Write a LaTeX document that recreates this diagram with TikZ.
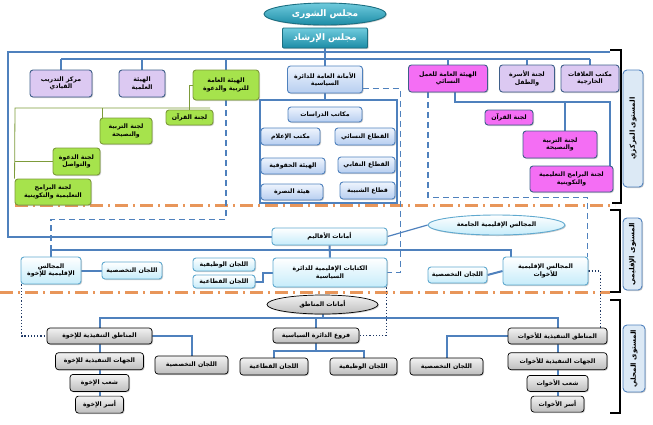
\documentclass[tikz,border=0pt]{standalone}
\usepackage{fontspec}
\usepackage{tikz}
\usetikzlibrary{positioning,shapes,shapes.geometric,shadows,backgrounds,calc}
\newfontfamily\arabicfont[Script=Arabic]{DejaVu Sans}
\TeXXeTstate=1
\newcommand{\artxt}[1]{\beginR #1\endR}

\definecolor{lineblue}{HTML}{4F81BD}
\definecolor{boxedge}{HTML}{3F5F8A}
\definecolor{lav}{HTML}{DCC9F2}
\definecolor{lgreen}{HTML}{A6E34C}
\definecolor{gedge}{HTML}{7D9B3A}
\definecolor{pink}{HTML}{F46EF4}
\definecolor{bluetop}{HTML}{EEF4FD}
\definecolor{bluebot}{HTML}{B7CEF0}
\definecolor{cyanfill}{HTML}{C6ECFA}
\definecolor{cyanedge}{HTML}{5FA9CF}
\definecolor{graytop}{HTML}{F2F2F2}
\definecolor{graybot}{HTML}{BDBDBD}
\definecolor{tealtop}{HTML}{6FCBDD}
\definecolor{tealbot}{HTML}{1C8CA6}
\definecolor{tealedge}{HTML}{1B6F82}
\definecolor{sepcol}{HTML}{E8965A}
\definecolor{navy}{HTML}{1F3864}
\definecolor{lvlfill}{HTML}{DCE9F5}

\tikzset{
  sz/.style 2 args={minimum width=#1pt, minimum height=#2pt},
  box/.style={rectangle, rounded corners=3pt, draw=boxedge, line width=0.9pt,
    align=center, inner sep=1pt, text=black,
    font=\arabicfont\bfseries\fontsize{6.2}{7.6}\selectfont,
    drop shadow={shadow xshift=1pt, shadow yshift=-1pt, opacity=0.4}},
  lavbox/.style={box, fill=lav},
  greenbox/.style={box, fill=lgreen, draw=gedge},
  pinkbox/.style={box, fill=pink},
  bluebox/.style={box, top color=bluetop, bottom color=bluebot, draw=lineblue},
  cyanbox/.style={box, top color=white, bottom color=cyanfill, draw=cyanedge},
  graybox/.style={box, top color=graytop, bottom color=graybot, draw=black, line width=0.7pt},
  tealbox/.style={box, top color=tealtop, bottom color=tealbot, draw=tealedge, text=white,
    font=\arabicfont\bfseries\fontsize{9}{10}\selectfont},
  lvlbox/.style={box, rounded corners=4pt, fill=lvlfill, draw=lineblue, rotate=90,
    font=\arabicfont\bfseries\fontsize{7}{8}\selectfont},
  conn/.style={draw=lineblue, line width=2pt},
  thinconn/.style={draw=lineblue, line width=1.2pt},
  gconn/.style={draw=gedge, line width=0.8pt},
  dconn/.style={draw=lineblue, line width=1.8pt, dash pattern=on 6pt off 4pt},
  dotconn/.style={draw=navy, line width=1.2pt, dotted},
  sepline/.style={draw=sepcol, line width=3pt, dash pattern=on 13pt off 5pt on 2pt off 5pt},
  brk/.style={draw=black, line width=1.5pt}
}

\begin{document}
\begin{tikzpicture}[x=1pt, y=-1pt]
\useasboundingbox (0,0) rectangle (653,424);

% top
\node[tealbox, ellipse, sz={122}{22}] (shura) at (325,14) {\artxt{مجلس الشورى}};
\node[tealbox, rounded corners=1pt, sz={85}{20}] (irshad) at (325,38) {\artxt{مجلس الإرشاد}};

\node[lavbox, sz={62}{27}] (tadrib) at (61,83.5) {\artxt{مركز التدريب}\\\artxt{القيادي}};
\node[lavbox, sz={46}{27}] (ilmia) at (142,83.5) {\artxt{الهيئة}\\\artxt{العلمية}};
\node[greenbox, sz={66}{30}] (tarbia) at (226,85) {\artxt{الهيئة العامة}\\\artxt{للتربية والدعوة}};
\node[bluebox, sz={75}{27}] (amana) at (325,79.5) {\artxt{الأمانة العامة للدائرة}\\\artxt{السياسية}};
\node[pinkbox, sz={79}{27}] (nisai) at (448,78.5) {\artxt{الهيئة العامة للعمل}\\\artxt{النسائي}};
\node[lavbox, sz={55}{27}] (usra) at (527,78.5) {\artxt{لجنة الأسرة}\\\artxt{والطفل}};
\node[lavbox, sz={58}{27}] (alaqat) at (590,78.5) {\artxt{مكتب العلاقات}\\\artxt{الخارجية}};

% green committees
\node[greenbox, sz={47}{15}] (quranG) at (189.5,117.5) {\artxt{لجنة القرآن}};
\node[greenbox, sz={52}{26}] (nasihaG) at (126,131) {\artxt{لجنة التربية}\\\artxt{والنصيحة}};
\node[greenbox, sz={47}{27}] (dawaG) at (76.5,161.5) {\artxt{لجنة الدعوة}\\\artxt{والتواصل}};
\node[greenbox, sz={76}{26}] (baramijG) at (53,192) {\artxt{لجنة البرامج}\\\artxt{التعليمية والتكوينية}};

% political sections
\node[bluebox, sz={74}{15}] (dirasat) at (325,114.5) {\artxt{مكاتب الدراسات}};
\node[bluebox, sz={59}{17}] (ilam) at (290.5,136.5) {\artxt{مكتب الإعلام}};
\node[bluebox, sz={60}{17}] (qnisai) at (365,136.5) {\artxt{القطاع النسائي}};
\node[bluebox, sz={64}{16}] (huquq) at (293,166) {\artxt{الهيئة الحقوقية}};
\node[bluebox, sz={57}{16}] (niqabi) at (366.5,165) {\artxt{القطاع النقابي}};
\node[bluebox, sz={62}{16}] (nusra) at (292,192) {\artxt{هيئة النصرة}};
\node[bluebox, sz={55}{17}] (shabiba) at (367.5,190.5) {\artxt{قطاع الشبيبة}};

% pink committees
\node[pinkbox, sz={48}{15}] (quranM) at (509,117.5) {\artxt{لجنة القرآن}};
\node[pinkbox, sz={74}{27}] (nasihaM) at (560,144.5) {\artxt{لجنة التربية}\\\artxt{والنصيحة}};
\node[pinkbox, sz={83}{26}] (baramijM) at (571.5,179) {\artxt{لجنة البرامج التعليمية}\\\artxt{والتكوينية}};

% regional level
\node[cyanbox, sz={115}{17}] (aqalim) at (329.5,236.5) {\artxt{أمانات الأقاليم}};
\node[cyanbox, ellipse, sz={137}{20}] (jamia) at (496.5,225) {\artxt{المجالس الإقليمية الجامعة}};
\node[cyanbox, sz={60}{27}] (ikhwaR) at (51,270.5) {\artxt{المجالس}\\\artxt{الإقليمية للإخوة}};
\node[cyanbox, sz={60}{17}] (takhR1) at (132,270.5) {\artxt{اللجان التخصصية}};
\node[cyanbox, sz={62}{13}] (watR) at (224,264.5) {\artxt{اللجان الوظيفية}};
\node[cyanbox, sz={62}{13}] (qitR) at (224,281.5) {\artxt{اللجان القطاعية}};
\node[cyanbox, sz={114}{29}] (kitabat) at (330,272.5) {\artxt{الكتابات الإقليمية للدائرة}\\\artxt{السياسية}};
\node[cyanbox, sz={59}{16}] (takhR2) at (457.5,275) {\artxt{اللجان التخصصية}};
\node[cyanbox, sz={85}{28}] (akhawatR) at (545.5,271) {\artxt{المجالس الإقليمية}\\\artxt{للأخوات}};

% local level
\node[graybox, ellipse, sz={111}{19}] (manatiq) at (322.5,304.5) {\artxt{أمانات المناطق}};
\node[graybox, sz={86}{15}] (furu) at (316,335.5) {\artxt{فروع الدائرة السياسية}};
\node[graybox, sz={68}{17}] (qitL) at (274,366.5) {\artxt{اللجان القطاعية}};
\node[graybox, sz={67}{17}] (watL) at (363.5,366.5) {\artxt{اللجان الوظيفية}};
\node[graybox, sz={73}{17}] (takhL2) at (446.5,366.5) {\artxt{اللجان التخصصية}};
\node[graybox, sz={73}{18}] (takhL1) at (191.5,365) {\artxt{اللجان التخصصية}};

\node[graybox, sz={99}{16}] (mintAkh) at (557.5,336) {\artxt{المناطق التنفيذية للأخوات}};
\node[graybox, sz={99}{17}] (jihAkh) [below=8pt of mintAkh] {\artxt{الجهات التنفيذية للأخوات}};
\node[graybox, sz={61}{16}] (shuAkh) [below=5pt of jihAkh] {\artxt{شعب الأخوات}};
\node[graybox, sz={53}{16}] (usAkh) [below=4pt of shuAkh] {\artxt{أسر الأخوات}};

\node[graybox, sz={105}{16}] (mintIkh) at (99.5,336) {\artxt{المناطق التنفيذية للإخوة}};
\node[graybox, sz={88}{17}] (jihIkh) [below=8pt of mintIkh] {\artxt{الجهات التنفيذية للإخوة}};
\node[graybox, sz={59}{17}] (shuIkh) [below=4pt of jihIkh] {\artxt{شعب الإخوة}};
\node[graybox, sz={48}{17}] (usIkh) [below=4pt of shuIkh] {\artxt{أسر الإخوة}};

% level labels
\node[lvlbox, sz={117}{20}] (lvlA) at (633,128.5) {\artxt{المستوى المركزي}};
\node[lvlbox, sz={72}{19}] (lvlB) at (632.5,254) {\artxt{المستوى الإقليمي}};
\node[lvlbox, sz={67}{22}] (lvlC) at (634,358.5) {\artxt{المستوى المحلي}};

\begin{scope}[on background layer]
% level separators and brackets
\draw[sepline] (15,205) -- (615,205);
\draw[sepline] (0,292) -- (610,292);
\draw[brk] (610,50) -| (621,203) -- (612,203);
\draw[brk] (610,210) -| (620,292) -- (610,292);
\draw[brk] (610,300) -| (620,413) -- (610,413);

% central level
\coordinate (fTL) at (8,52);
\coordinate (fTR) at (610,52);
\coordinate (busB) at (0,59);
\draw[conn] (fTR) -- (fTL) |- (aqalim.west);
\draw[conn] (irshad.south) -- (amana.north);
\draw[conn] (tadrib.north |- busB) -- (alaqat.north |- busB);
\foreach \nd in {tadrib,ilmia,tarbia,nisai,usra,alaqat}
  \draw[conn] (\nd.north) -- (\nd.north |- busB);

\coordinate (gL) at (15,108);
\coordinate (gR) at (210,108);
\draw[gconn] (tarbia.west) -| (quranG.north);
\draw[gconn] (gR) -- (gL) -- (baramijG.north west);
\draw[gconn] ([xshift=3pt]nasihaG.north west) -- ([xshift=3pt]nasihaG.north west |- gL);
\draw[gconn] (dawaG.west) -- (dawaG.west -| gL);

\coordinate (frTL) at (260,100);
\coordinate (frBR) at (397,203);
\draw[thinconn] (frTL) rectangle (frBR);
\draw[thinconn] (amana.south) -- (amana.south |- frTL);

\coordinate (mbus) at (610,102);
\draw[conn] ([xshift=7pt]nisai.south) |- (mbus) -- (mbus |- baramijM.north);
\draw[conn] ([xshift=5pt]nasihaM.north) -- ([xshift=5pt]nasihaM.north |- mbus);

% links down to the regions
\draw[dconn] (tarbia.south) -- ++(0,119) -| (ikhwaR.north);
\draw[dconn] ([yshift=5pt]amana.south east) -| ([xshift=13pt]kitabat.east) -- (kitabat.east);
\draw[dconn] ([xshift=-20pt]nisai.south) -- ++(0,105) -| ([xshift=-1pt]akhawatR.north east);

% regional level
\draw[conn] (aqalim.south) -- (kitabat.north);
\draw[thinconn] (aqalim.east) -- (jamia.west);
\draw[conn] (ikhwaR.north) -- ++(0,-7) -| ([xshift=-35pt]akhawatR.north);
\draw[conn] (ikhwaR.east) -- (takhR1.west);
\draw[conn] (kitabat.west) -- ++(-10,0) |- (qitR.east);
\draw[conn] (takhR2.east) -- (akhawatR.west);

\draw[dotconn] ([xshift=1pt]ikhwaR.south west) |- (mintIkh.west);
\draw[dotconn] (akhawatR.east) -| ([xshift=-7pt]mintAkh.north east);
\draw[dotconn] ([xshift=-1pt]kitabat.south east) |- (furu.east);

% local level
\coordinate (lbus) at (0,318);
\draw[conn] (mintIkh.north) -- (mintIkh.north |- lbus) -- (mintAkh.north |- lbus) -- (mintAkh.north);
\draw[conn] (manatiq.south) -- (manatiq.south |- lbus);
\draw[conn] (furu.north) -- (furu.north |- lbus);
\draw[conn] (furu.south) -- ([yshift=-8pt]furu.south);
\draw[conn] (qitL.north) |- ([yshift=-8pt]furu.south) -| (watL.north);
\draw[conn] (mintAkh.west) -| (takhL2.north);
\draw[conn] (mintIkh.east) -| (takhL1.north);
\draw[conn] (mintAkh) -- (usAkh);
\draw[conn] (mintIkh) -- (usIkh);
\end{scope}
\end{tikzpicture}
\end{document}
